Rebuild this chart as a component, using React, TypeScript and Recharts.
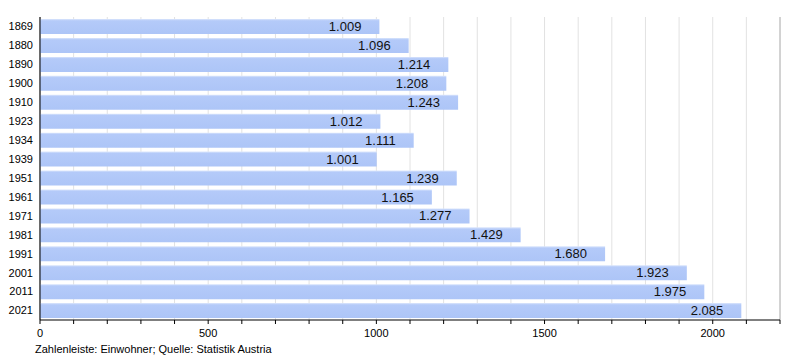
import React from "react";
import { BarChart, Bar, XAxis, YAxis, CartesianGrid, LabelList } from "recharts";

const years = ["1869", "1880", "1890", "1900", "1910", "1923", "1934", "1939", "1951", "1961", "1971", "1981", "1991", "2001", "2011", "2021"];
const population = [1009, 1096, 1214, 1208, 1243, 1012, 1111, 1001, 1239, 1165, 1277, 1429, 1680, 1923, 1975, 2085];
const xTicks = [0, 100, 200, 300, 400, 500, 600, 700, 800, 900, 1000, 1100, 1200, 1300, 1400, 1500, 1600, 1700, 1800, 1900, 2000, 2100, 2200];
const majorTicks = [0, 500, 1000, 1500, 2000];
const footer = "Zahlenleiste: Einwohner; Quelle: Statistik Austria";

const data = years.map((y, i) => ({ year: y, value: population[i] }));

const fmt = (v: number) => {
  const s = String(Math.round(v));
  return s.replace(/\B(?=(\d{3})+(?!\d))/g, ".");
};

const FONT = "'Liberation Sans', Arial, Helvetica, sans-serif";

export default function App() {
  return (
    <div style={{ position: "absolute", left: 0, top: 0, width: 800, height: 360, background: "#fff", fontFamily: FONT }}>
      <BarChart
        width={800}
        height={360}
        data={data}
        layout="vertical"
        margin={{ top: 17, right: 20, bottom: 20, left: 0 }}
        barCategoryGap={2}
      >
        <defs>
          <linearGradient id="barFill" x1="0" y1="0" x2="0" y2="1">
            <stop offset="0%" stopColor="#dbe6fc" />
            <stop offset="12%" stopColor="#b4caf9" />
            <stop offset="100%" stopColor="#adc5f7" />
          </linearGradient>
        </defs>
        <CartesianGrid horizontal={false} stroke="#e2e2e2" xAxisId="minor" />
        <CartesianGrid horizontal={false} stroke="#b4b4b4" xAxisId="major" />
        <XAxis
          xAxisId="major"
          type="number"
          domain={[0, 2200]}
          ticks={majorTicks}
          interval={0}
          height={0}
          hide
        />
        <XAxis
          xAxisId="minor"
          type="number"
          domain={[0, 2200]}
          ticks={xTicks}
          interval={0}
          tickFormatter={(v: number) => (v % 500 === 0 ? String(v) : "")}
          axisLine={{ stroke: "#000" }}
          tickLine={{ stroke: "#000" }}
          tickSize={4}
          tickMargin={5}
          height={20}
          tick={{ fontSize: 11, fill: "#000", fontFamily: FONT }}
        />
        <YAxis
          type="category"
          dataKey="year"
          width={40}
          axisLine={{ stroke: "#000" }}
          tickLine={false}
          tickSize={0}
          tickMargin={7}
          tick={{ fontSize: 11, fill: "#000", fontFamily: FONT }}
        />
        <Bar dataKey="value" xAxisId="minor" fill="url(#barFill)" isAnimationActive={false}>
          <LabelList
            dataKey="value"
            position="insideRight"
            offset={18}
            formatter={(v: any) => fmt(Number(v))}
            style={{ fontSize: 13, fill: "#111", fontFamily: FONT }}
          />
        </Bar>
      </BarChart>
      <div style={{ position: "absolute", left: 35, top: 343, fontSize: 11, color: "#000", whiteSpace: "nowrap" }}>{footer}</div>
    </div>
  );
}
